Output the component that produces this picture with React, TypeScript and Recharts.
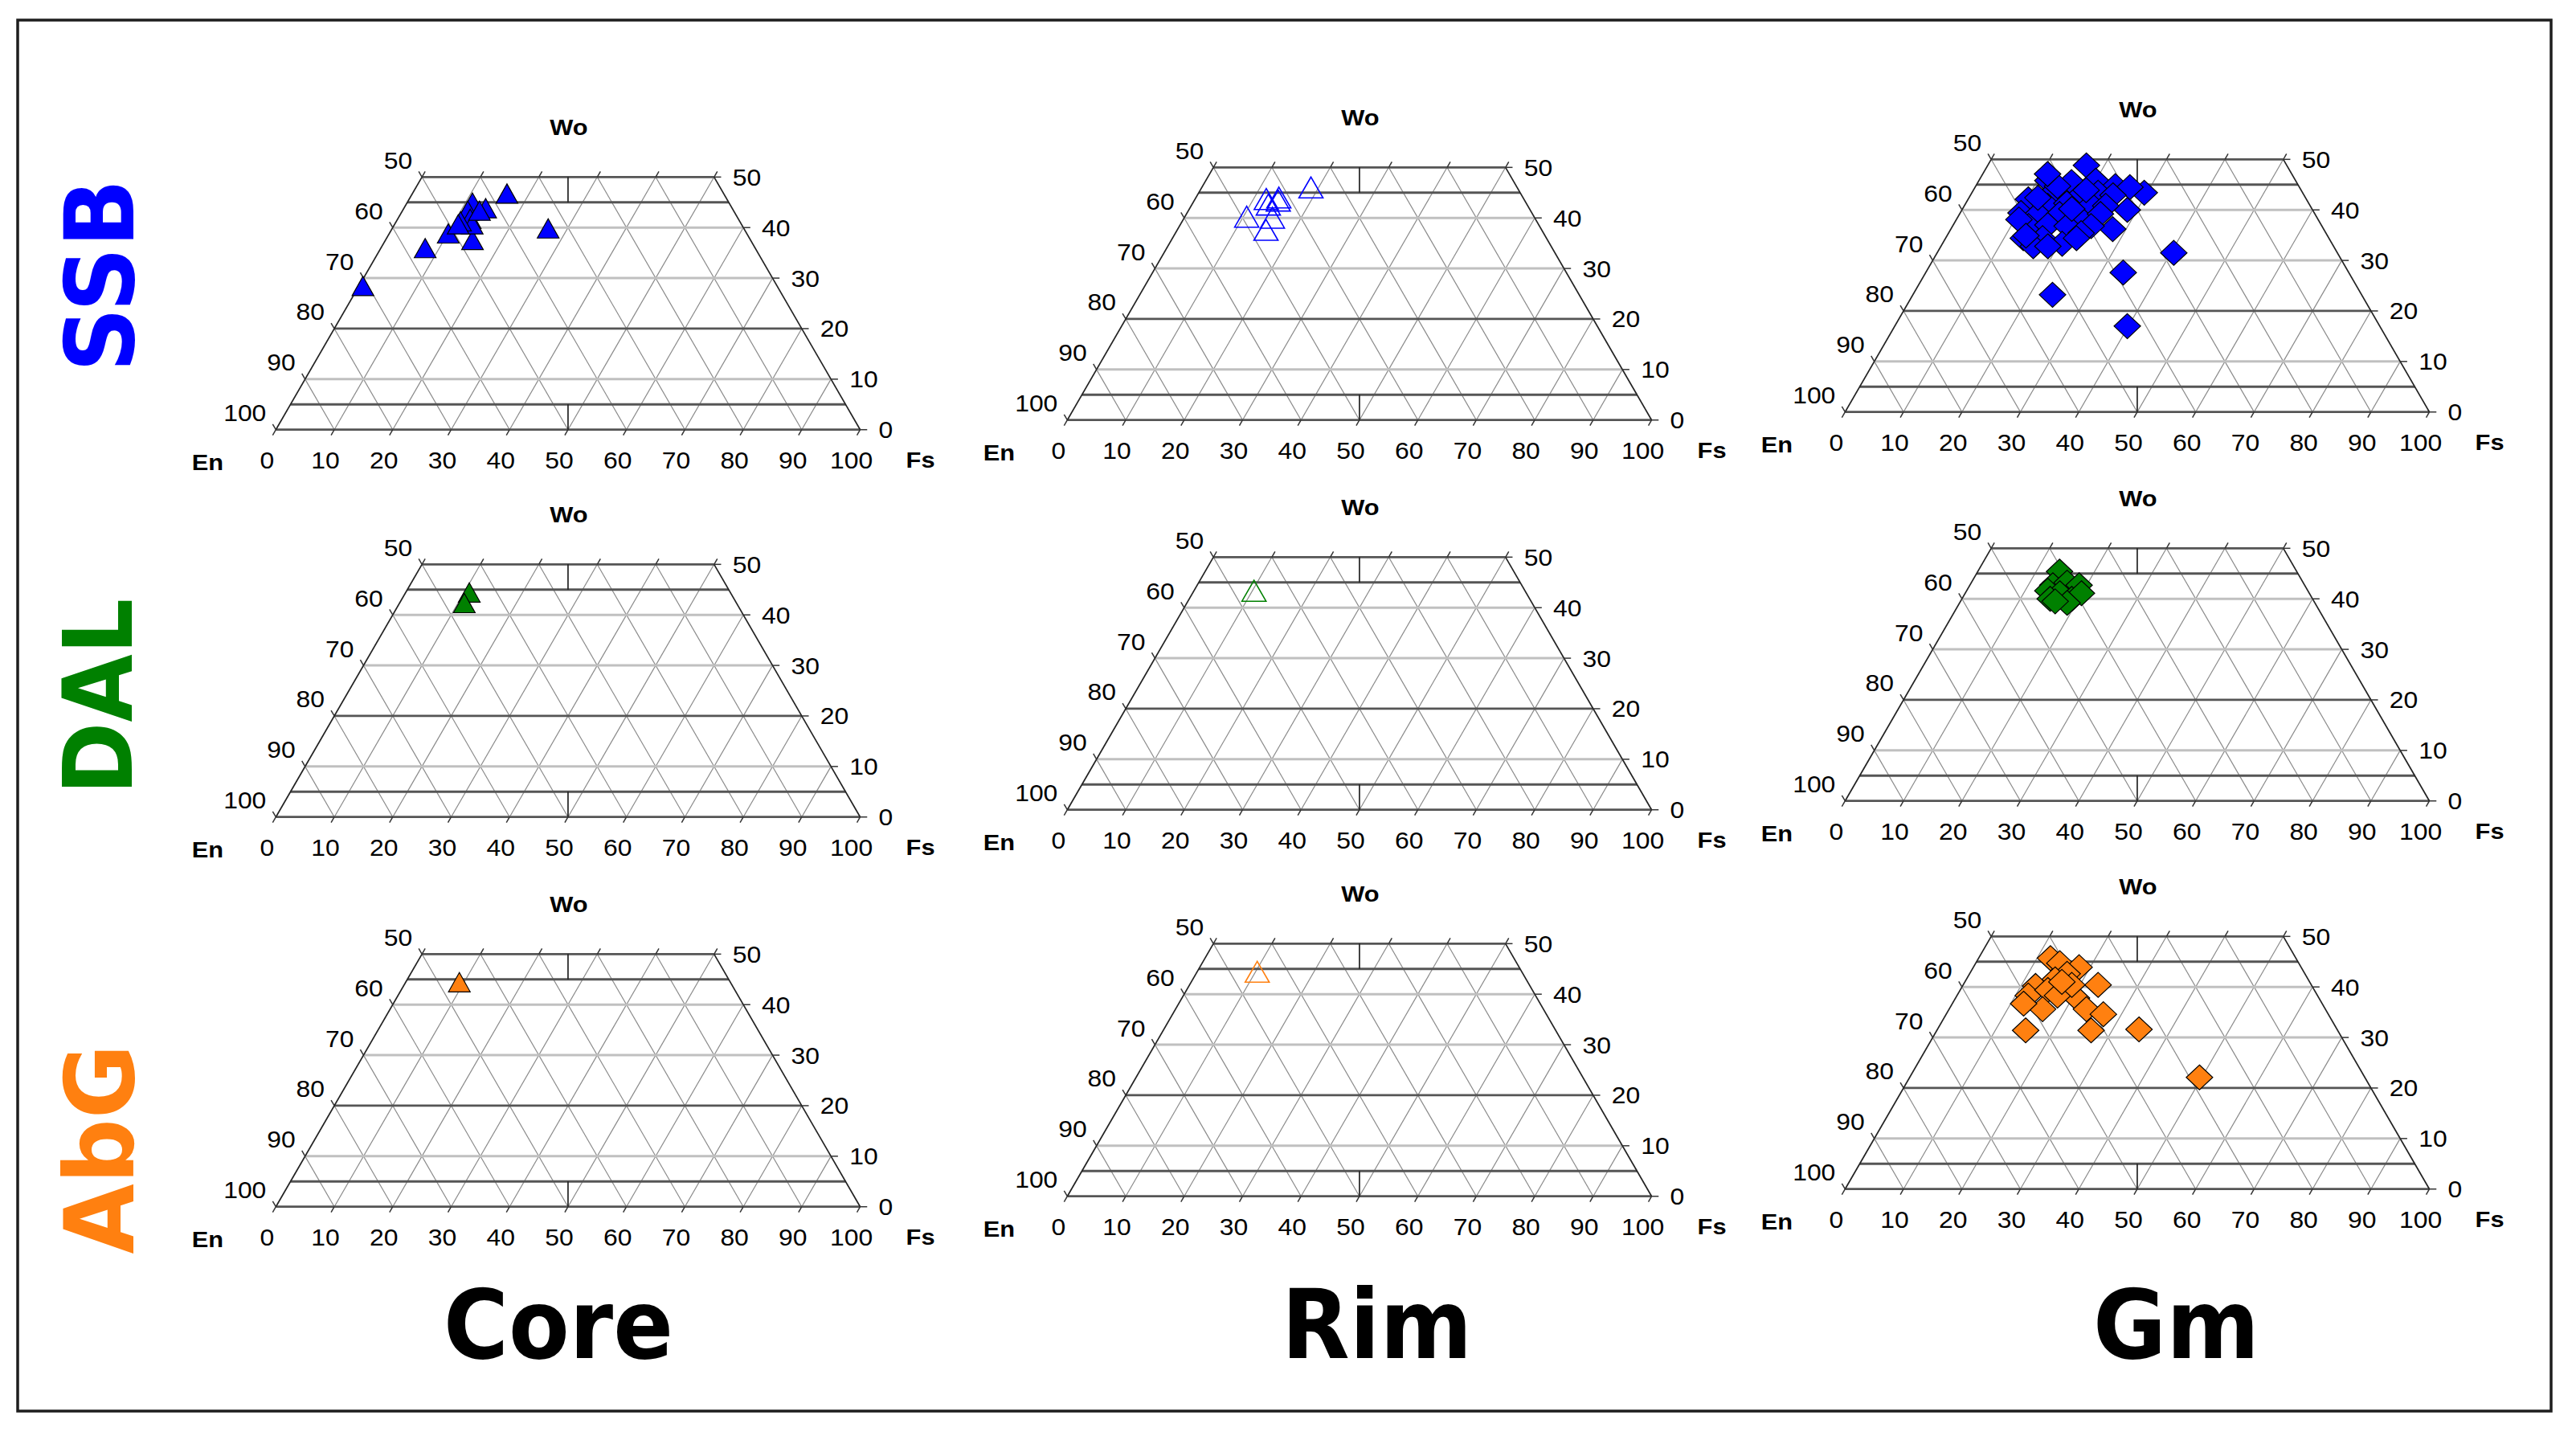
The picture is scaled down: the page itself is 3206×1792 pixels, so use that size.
import React from 'react';
import { ScatterChart, Scatter, XAxis, YAxis, ReferenceLine } from 'recharts';

// ---- Data: pyroxene compositions, Wo and Fs in mol% (En = 100 - Wo - Fs) ----
const coreSSB = [
  { wo: 46.1, fs: 16.5 }, { wo: 39.2, fs: 27.0 }, { wo: 27.8, fs: 1.0 }, { wo: 35.3, fs: 7.9 },
  { wo: 38.2, fs: 10.4 }, { wo: 36.9, fs: 15.2 }, { wo: 44.3, fs: 11.5 }, { wo: 43.2, fs: 14.3 },
  { wo: 42.7, fs: 11.5 }, { wo: 41.1, fs: 12.7 }, { wo: 40.0, fs: 13.6 }, { wo: 40.6, fs: 11.3 },
  { wo: 42.7, fs: 13.5 }, { wo: 40.0, fs: 11.2 },
];
const rimSSB = [
  { wo: 45.4, fs: 19.0 }, { wo: 43.1, fs: 12.5 }, { wo: 43.4, fs: 14.5 }, { wo: 42.8, fs: 14.7 },
  { wo: 39.6, fs: 10.9 }, { wo: 39.4, fs: 15.4 }, { wo: 37.0, fs: 15.5 }, { wo: 42.0, fs: 13.4 },
];
const gmSSB = [
  { wo: 48.8, fs: 16.9 }, { wo: 43.4, fs: 29.5 }, { wo: 40.0, fs: 28.3 }, { wo: 36.2, fs: 27.7 },
  { wo: 31.5, fs: 40.5 }, { wo: 27.6, fs: 33.8 }, { wo: 23.2, fs: 23.9 }, { wo: 17.0, fs: 39.8 },
  { wo: 45.8, fs: 11.8 }, { wo: 45.5, fs: 16.0 }, { wo: 45.8, fs: 20.0 }, { wo: 44.7, fs: 23.9 },
  { wo: 44.5, fs: 26.5 }, { wo: 43.4, fs: 13.8 }, { wo: 42.6, fs: 18.7 }, { wo: 43.4, fs: 21.6 },
  { wo: 42.9, fs: 24.4 }, { wo: 42.1, fs: 10.3 }, { wo: 40.8, fs: 14.3 }, { wo: 41.3, fs: 17.3 },
  { wo: 41.0, fs: 21.6 }, { wo: 40.8, fs: 24.2 }, { wo: 39.4, fs: 10.4 }, { wo: 39.2, fs: 13.4 },
  { wo: 39.2, fs: 17.1 }, { wo: 38.6, fs: 20.7 }, { wo: 39.2, fs: 24.1 }, { wo: 36.8, fs: 13.0 },
  { wo: 37.0, fs: 16.2 }, { wo: 36.8, fs: 19.6 }, { wo: 36.8, fs: 23.7 }, { wo: 34.4, fs: 13.3 },
  { wo: 34.4, fs: 16.6 }, { wo: 33.3, fs: 20.5 }, { wo: 35.4, fs: 22.7 }, { wo: 32.8, fs: 15.8 },
  { wo: 32.8, fs: 18.3 }, { wo: 38.1, fs: 10.7 }, { wo: 40.2, fs: 18.7 }, { wo: 42.4, fs: 11.8 },
  { wo: 44.7, fs: 14.0 }, { wo: 43.9, fs: 19.3 }, { wo: 34.9, fs: 13.5 }, { wo: 47.1, fs: 11.1 },
  { wo: 34.4, fs: 22.4 },
];
const coreDAL = [{ wo: 43.8, fs: 11.2 }, { wo: 41.7, fs: 11.4 }];
const rimDAL = [{ wo: 42.7, fs: 10.6 }];
const gmDAL = [
  { wo: 45.4, fs: 14.0 }, { wo: 42.7, fs: 14.2 }, { wo: 43.2, fs: 16.4 }, { wo: 42.7, fs: 18.7 },
  { wo: 41.6, fs: 13.9 }, { wo: 41.1, fs: 16.2 }, { wo: 40.0, fs: 15.1 }, { wo: 40.0, fs: 18.8 },
  { wo: 41.1, fs: 19.9 }, { wo: 39.2, fs: 18.4 }, { wo: 39.5, fs: 16.2 },
];
const coreAbG = [{ wo: 43.8, fs: 9.5 }];
const rimAbG = [{ wo: 43.8, fs: 10.6 }];
const gmAbG = [
  { wo: 22.1, fs: 49.6 }, { wo: 31.6, fs: 34.5 }, { wo: 31.4, fs: 26.4 }, { wo: 31.4, fs: 15.2 },
  { wo: 45.7, fs: 12.3 }, { wo: 44.7, fs: 14.4 }, { wo: 43.9, fs: 18.1 }, { wo: 42.6, fs: 16.7 },
  { wo: 41.5, fs: 15.2 }, { wo: 40.4, fs: 23.1 }, { wo: 40.2, fs: 12.5 }, { wo: 38.3, fs: 12.2 },
  { wo: 39.4, fs: 15.0 }, { wo: 37.8, fs: 20.7 }, { wo: 35.6, fs: 16.0 }, { wo: 35.6, fs: 23.5 },
  { wo: 34.6, fs: 26.9 }, { wo: 36.7, fs: 12.2 }, { wo: 38.3, fs: 17.2 }, { wo: 40.4, fs: 18.6 },
  { wo: 41.0, fs: 16.6 },
];

// ---- Tick labels ----
const fsTicks = [0, 10, 20, 30, 40, 50, 60, 70, 80, 90, 100];
const woTicks = [0, 10, 20, 30, 40, 50];
const enTicks = [100, 90, 80, 70, 60, 50];
const rowLabels = ['SSB', 'DAL', 'AbG'];
const colLabels = ['Core', 'Rim', 'Gm'];
const endMembers = { top: 'Wo', left: 'En', right: 'Fs' };

// ---- Styling / layout ----
const BLUE = '#0000ff';
const GREEN = '#008000';
const ORANGE = '#ff8010';
const rowColors = [BLUE, GREEN, ORANGE];

const PX_X = 7.272;
const PX_Y = 6.288;
const XMIN = -16, XMAX = 116, YMIN = -10, YMAX = 65;
const CW = (XMAX - XMIN) * PX_X;
const CH = (YMAX - YMIN) * PX_Y;

const panelOrigins = [
  [343.1, 534.7], [1328.7, 522.3], [2295.9, 512.3],
  [343.1, 1016.3], [1328.7, 1007.3], [2295.9, 996.7],
  [343.1, 1501.3], [1328.7, 1489], [2295.9, 1480],
];
const panelData = [coreSSB, rimSSB, gmSSB, coreDAL, rimDAL, gmDAL, coreAbG, rimAbG, gmAbG];
const panelMarker = ['tri', 'open', 'dia', 'tri', 'open', 'dia', 'tri', 'open', 'dia'];

const proj = (wo: number, fs: number) => ({ x: fs + wo / 2, y: wo });

type Seg = { a: { x: number; y: number }; b: { x: number; y: number }; kind: string };

function buildGrid(): Seg[] {
  const s: Seg[] = [];
  for (let f = 10; f <= 90; f += 10) {
    const top = Math.min(50, 100 - f);
    s.push({ a: proj(0, f), b: proj(top, f), kind: 'diag' });
  }
  for (let e = 10; e <= 90; e += 10) {
    const top = Math.min(50, 100 - e);
    s.push({ a: proj(0, 100 - e), b: proj(top, 100 - e - top), kind: 'diag' });
  }
  [10, 30, 40].forEach((k) => s.push({ a: proj(k, 0), b: proj(k, 100 - k), kind: 'light' }));
  [0, 5, 20, 45, 50].forEach((k) => s.push({ a: proj(k, 0), b: proj(k, 100 - k), kind: 'dark' }));
  s.push({ a: proj(0, 0), b: proj(50, 0), kind: 'edge' });
  s.push({ a: proj(0, 100), b: proj(50, 50), kind: 'edge' });
  s.push({ a: { x: 50, y: 0 }, b: { x: 50, y: 5 }, kind: 'edge' });
  s.push({ a: { x: 50, y: 45 }, b: { x: 50, y: 50 }, kind: 'edge' });
  fsTicks.forEach((f) => s.push({ a: proj(0, f), b: proj(-1.1, f), kind: 'tick' }));
  [0, 10, 20, 30, 40, 50].forEach((f) => s.push({ a: proj(50, f), b: proj(51.1, f), kind: 'tick' }));
  woTicks.forEach((k) => s.push({ a: proj(k, 100 - k), b: { x: 100 - k / 2 + 1.2, y: k }, kind: 'tick' }));
  woTicks.forEach((k) => s.push({ a: proj(k, 0), b: proj(k + 1.1, -1.1), kind: 'tick' }));
  return s;
}
const GRID = buildGrid();

const segStyle: Record<string, { stroke: string; w: number }> = {
  diag: { stroke: '#8a8a8a', w: 1.2 },
  light: { stroke: '#c0c0c0', w: 3 },
  dark: { stroke: '#555', w: 2.8 },
  edge: { stroke: '#222', w: 1.7 },
  tick: { stroke: '#333', w: 1.5 },
};

const FONT = "'Liberation Sans', Arial, sans-serif";
const SX = 1.1;

const mkText = (dx: number, dy: number, anchor: string, size: number, bold: boolean) => (p: any) => {
  if (p.cx == null) return <g />;
  return (
    <text
      transform={`translate(${p.cx + dx},${p.cy + dy}) scale(${SX},1)`}
      textAnchor={anchor}
      fontSize={size}
      fontWeight={bold ? 'bold' : 'normal'}
      fontFamily={FONT}
      fill="#000"
    >
      {p.payload.t}
    </text>
  );
};

const markerShape = (kind: string, color: string) => (p: any) => {
  const { cx, cy } = p;
  if (cx == null) return <g />;
  if (kind === 'tri')
    return <polygon points={`${cx},${cy - 16} ${cx - 13.5},${cy + 8} ${cx + 13.5},${cy + 8}`} fill={color} stroke="#000" strokeWidth={1.2} />;
  if (kind === 'open')
    return <polygon points={`${cx},${cy - 17} ${cx - 15},${cy + 9} ${cx + 15},${cy + 9}`} fill="none" stroke={color} strokeWidth={1.6} />;
  return <polygon points={`${cx},${cy - 15.5} ${cx + 16.5},${cy} ${cx},${cy + 15.5} ${cx - 16.5},${cy}`} fill={color} stroke="#000" strokeWidth={1.2} />;
};

const fsLabelData = fsTicks.map((v) => ({ ...proj(0, v), t: String(v) }));
const woLabelData = woTicks.map((k) => ({ ...proj(k, 100 - k), t: String(k) }));
const enLabelData = enTicks.map((en) => ({ ...proj(100 - en, 0), t: String(en) }));
const topLabel = [{ ...proj(50, 25), t: endMembers.top }];
const leftLabel = [{ ...proj(0, 0), t: endMembers.left }];
const rightLabel = [{ ...proj(0, 100), t: endMembers.right }];

function Panel({ idx }: { idx: number }) {
  const [x0, yb] = panelOrigins[idx];
  const color = rowColors[Math.floor(idx / 3)];
  const pts = panelData[idx].map((d) => proj(d.wo, d.fs));
  return (
    <div style={{ position: 'absolute', left: x0 + XMIN * PX_X, top: yb - YMAX * PX_Y }}>
      <ScatterChart width={CW} height={CH} margin={{ top: 0, right: 0, bottom: 0, left: 0 }}>
        <XAxis type="number" dataKey="x" domain={[XMIN, XMAX]} hide />
        <YAxis type="number" dataKey="y" domain={[YMIN, YMAX]} hide />
        {GRID.map((g, i) => (
          <ReferenceLine
            key={i}
            segment={[g.a, g.b]}
            stroke={segStyle[g.kind].stroke}
            strokeWidth={segStyle[g.kind].w}
            ifOverflow="visible"
            zIndex={1}
          />
        ))}
        <Scatter data={fsLabelData} isAnimationActive={false} shape={mkText(-11, 48, 'middle', 29, false)} />
        <Scatter data={woLabelData} isAnimationActive={false} shape={mkText(23, 10.5, 'start', 29, false)} />
        <Scatter data={enLabelData} isAnimationActive={false} shape={mkText(-12, -10.5, 'end', 29, false)} />
        <Scatter data={topLabel} isAnimationActive={false} shape={mkText(1, -52, 'middle', 28, true)} />
        <Scatter data={leftLabel} isAnimationActive={false} shape={mkText(-85, 50, 'middle', 28, true)} />
        <Scatter data={rightLabel} isAnimationActive={false} shape={mkText(75, 47, 'middle', 28, true)} />
        <Scatter data={pts} isAnimationActive={false} shape={markerShape(panelMarker[idx], color)} zIndex={1000} />
      </ScatterChart>
    </div>
  );
}

const rowLabelPos = [
  { x: 166, y: 343, len: 240 },
  { x: 164, y: 867, len: 244 },
  { x: 166, y: 1430, len: 261 },
];
const colLabelPos = [
  { x: 695, y: 1690, len: 286 },
  { x: 1713.5, y: 1690, len: 237 },
  { x: 2708.5, y: 1690, len: 207 },
];

export default function App() {
  return (
    <div style={{ position: 'absolute', left: 0, top: 0, width: 3206, height: 1792, background: '#fff', overflow: 'hidden' }}>
      <svg width={3206} height={1792} style={{ position: 'absolute', left: 0, top: 0 }}>
        <rect x={22} y={25} width={3153} height={1731} fill="#fff" stroke="#1e1e1e" strokeWidth={3.5} />
        {rowLabels.map((t, i) => (
          <text
            key={t}
            transform={`translate(${rowLabelPos[i].x},${rowLabelPos[i].y}) rotate(-90)`}
            textAnchor="middle"
            fontSize={120}
            fontWeight="bold"
            fontFamily="'DejaVu Sans', sans-serif"
            fill={rowColors[i]}
            textLength={rowLabelPos[i].len}
            lengthAdjust="spacingAndGlyphs"
          >
            {t}
          </text>
        ))}
        {colLabels.map((t, i) => (
          <text
            key={t}
            x={colLabelPos[i].x}
            y={colLabelPos[i].y}
            textAnchor="middle"
            fontSize={120}
            fontWeight="bold"
            fontFamily="'DejaVu Sans', sans-serif"
            fill="#000"
            textLength={colLabelPos[i].len}
            lengthAdjust="spacingAndGlyphs"
          >
            {t}
          </text>
        ))}
      </svg>
      {panelOrigins.map((_, i) => (
        <Panel key={i} idx={i} />
      ))}
    </div>
  );
}
